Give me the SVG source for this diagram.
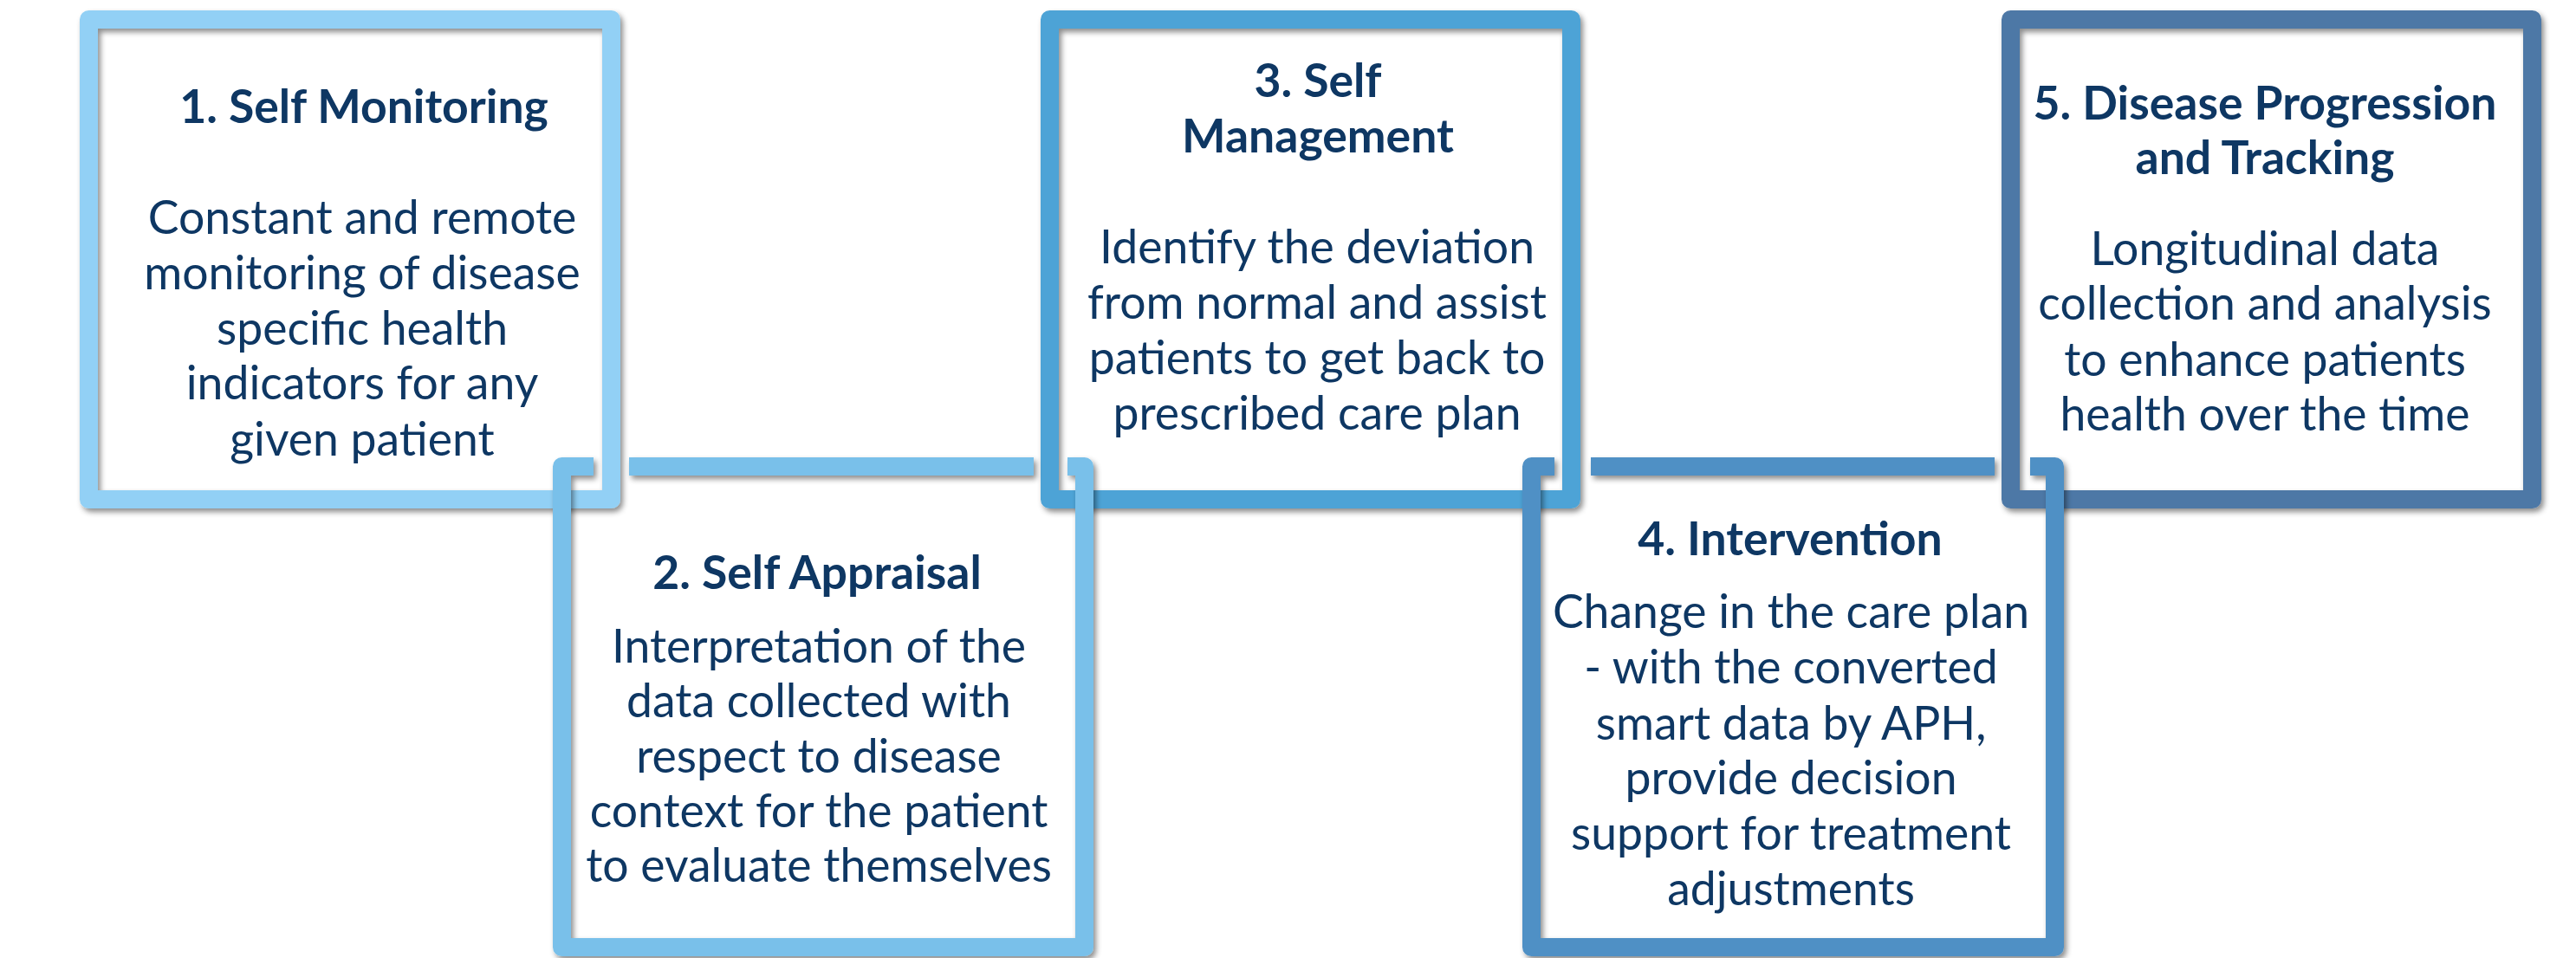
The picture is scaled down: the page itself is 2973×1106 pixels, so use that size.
<svg xmlns="http://www.w3.org/2000/svg" width="2973" height="1106" viewBox="0 0 2973 1106">
<style>
.fr{fill:none;stroke-width:21;stroke-linejoin:round;stroke-linecap:butt;filter:url(#sh)}
.b1{stroke:#92D0F5}.b2{stroke:#79C0EA}.b3{stroke:#4EA3D6}.b4{stroke:#5090C5}.b5{stroke:#4E78A6}
.t{font-family:Lato,"Liberation Sans",sans-serif;fill:#0E3763;text-anchor:middle}
.h{font-size:53.5px;font-weight:700}
.d{font-size:53.5px;font-weight:400}
</style>
<defs>
<filter id="sh" filterUnits="userSpaceOnUse" x="0" y="0" width="2973" height="1106">
<feDropShadow dx="3" dy="4" stdDeviation="3" flood-color="#000" flood-opacity="0.45"/>
</filter>
</defs>
<rect width="2973" height="1106" fill="#fff"/>
<g id="connectors"></g>
<g id="node1">
<path class="fr b1" d="M102.5 22.5H705.5V576.5H102.5Z"/>
<text class="t h" x="420" y="142">1. Self Monitoring</text>
<text class="t d" x="418" y="270">Constant and remote</text>
<text class="t d" x="418" y="334">monitoring of disease</text>
<text class="t d" x="418" y="398">specific health</text>
<text class="t d" x="418" y="461">indicators for any</text>
<text class="t d" x="418" y="526">given patient</text>
</g>
<g id="node3">
<path class="fr b3" d="M1211.5 22.5H1813.5V576.5H1211.5Z"/>
<text class="t h" x="1521" y="112">3. Self</text>
<text class="t h" x="1521" y="176">Management</text>
<text class="t d" x="1520" y="304">Identify the deviation</text>
<text class="t d" x="1520" y="368">from normal and assist</text>
<text class="t d" x="1520" y="432">patients to get back to</text>
<text class="t d" x="1520" y="496">prescribed care plan</text>
</g>
<g id="node5">
<path class="fr b5" d="M2320.5 22.5H2922.5V576.5H2320.5Z"/>
<text class="t h" x="2614" y="138">5. Disease Progression</text>
<text class="t h" x="2614" y="201">and Tracking</text>
<text class="t d" x="2614" y="306">Longitudinal data</text>
<text class="t d" x="2614" y="369">collection and analysis</text>
<text class="t d" x="2614" y="434">to enhance patients</text>
<text class="t d" x="2614" y="497">health over the time</text>
</g>
<g id="node2">
<path class="fr b2" d="M685 538.5H648.5V1093.5H1251.5V538.5H1232"/>
<path class="fr b2" d="M726 538.5H1193"/>
<text class="t h" x="943" y="680">2. Self Appraisal</text>
<text class="t d" x="945" y="765">Interpretation of the</text>
<text class="t d" x="945" y="828">data collected with</text>
<text class="t d" x="945" y="892">respect to disease</text>
<text class="t d" x="945" y="955">context for the patient</text>
<text class="t d" x="945" y="1018">to evaluate themselves</text>
</g>
<g id="node4">
<path class="fr b4" d="M1794 538.5H1767.5V1093.5H2371.5V538.5H2343"/>
<path class="fr b4" d="M1836 538.5H2302"/>
<text class="t h" x="2066" y="641">4. Intervention</text>
<text class="t d" x="2067" y="725">Change in the care plan</text>
<text class="t d" x="2067" y="789">- with the converted</text>
<text class="t d" x="2067" y="854">smart data by APH,</text>
<text class="t d" x="2067" y="917">provide decision</text>
<text class="t d" x="2067" y="981">support for treatment</text>
<text class="t d" x="2067" y="1045">adjustments</text>
</g>
</svg>
